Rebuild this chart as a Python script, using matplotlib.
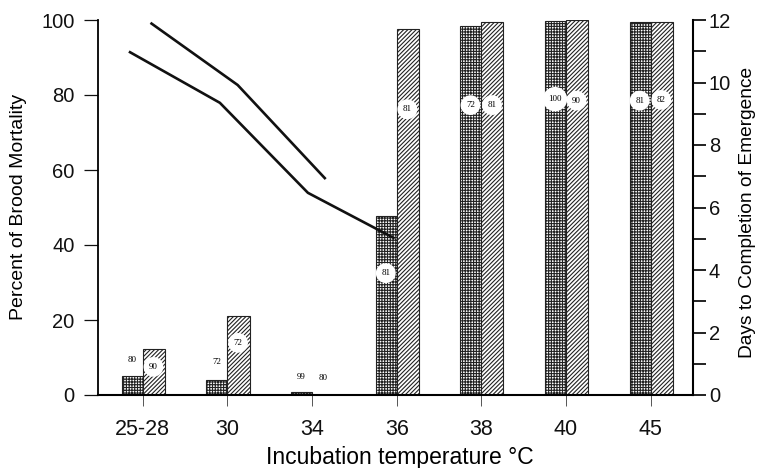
import numpy as np
import matplotlib
matplotlib.use("Agg")
import matplotlib.pyplot as plt
from matplotlib.ticker import MultipleLocator

# ---------------- data ----------------
categories = ["25-28", "30", "34", "36", "38", "40", "45"]
mortality_grid = [5, 4, 0.8, 47.7, 98.5, 99.8, 99.5]      # cross-hatched bars (%)
mortality_diag = [12.2, 21.0, 0, 97.5, 99.6, 100, 99.6]   # diagonal-hatched bars (%)

grid_labels = ["80", "72", "99", "81", "72", "100", "81"]
grid_label_y = [9.3, 8.8, 4.9, 32.5, 77.3, 78.9, 78.5]
grid_label_circle = [False, False, False, True, True, True, True]
diag_labels = ["90", "72", "80", "81", "81", "90", "82"]
diag_label_y = [7.5, 13.9, 4.5, 76.2, 77.3, 78.5, 78.7]
diag_label_circle = [True, True, False, True, True, True, True]

# days to completion of emergence (two curves, positions in category units)
days_a_x = [0.09, 1.12, 2.16]
days_a = [11.91, 9.92, 6.91]
days_b_x = [-0.165, 0.91, 1.95, 2.975]
days_b = [10.99, 9.35, 6.47, 5.01]

# ---------------- style ----------------
plt.rcParams['font.family'] = ['Liberation Sans', 'DejaVu Sans']
plt.rcParams['hatch.linewidth'] = 0.8

W, H = 758, 468
fig = plt.figure(figsize=(W / 100, H / 100), dpi=100)
left_px, right_px, top_px, bottom_px = 98, 693, 20, 395
ax = fig.add_axes([left_px / W, 1 - bottom_px / H,
                   (right_px - left_px) / W, (bottom_px - top_px) / H])

x = np.arange(len(categories))
bw = 0.25
ax.bar(x - bw, mortality_grid, width=bw, align='edge', facecolor='white',
       edgecolor='#222222', linewidth=0.8, hatch='++++++', zorder=2)
ax.bar(x, mortality_diag, width=bw + 0.01, align='edge', facecolor='white',
       edgecolor='#222222', linewidth=0.8, hatch='////////', zorder=2)

ax.set_xlim(-0.53, 6.5)
ax.set_ylim(0, 100)
ax.set_xticks(x)
ax.set_xticklabels(categories, fontsize=15.5)
ax.set_yticks(np.arange(0, 101, 20))
ax.tick_params(axis='y', direction='out', length=10, width=0.9, pad=7,
               labelsize=14.5, colors='#111111')
ax.tick_params(axis='x', direction='out', length=8, width=0.7, pad=9,
               colors='#555555', labelcolor='#111111')
for s in ['top', 'right']:
    ax.spines[s].set_visible(False)
ax.spines['left'].set_linewidth(1.3)
ax.spines['bottom'].set_linewidth(1.5)

bbox_c = dict(boxstyle='circle,pad=0.6', facecolor='white', edgecolor='none')
for i in range(len(categories)):
    ax.text(x[i] - 0.13, grid_label_y[i], grid_labels[i], ha='center', va='center',
            fontsize=6.5, family=['Liberation Serif', 'DejaVu Serif'], zorder=4,
            bbox=bbox_c if grid_label_circle[i] else None)
    ax.text(x[i] + 0.125, diag_label_y[i], diag_labels[i], ha='center', va='center',
            fontsize=6.5, family=['Liberation Serif', 'DejaVu Serif'], zorder=4,
            bbox=bbox_c if diag_label_circle[i] else None)

ax2 = ax.twinx()
ax2.set_ylim(0, 12)
ax2.plot(days_a_x, days_a, color='#111111', lw=1.9, zorder=5, solid_capstyle='butt')
ax2.plot(days_b_x, days_b, color='#111111', lw=1.9, zorder=5, solid_capstyle='butt')
ax2.yaxis.set_major_locator(MultipleLocator(2))
ax2.yaxis.set_minor_locator(MultipleLocator(1))
ax2.tick_params(axis='y', which='both', direction='out', length=9.5, width=1.3,
                pad=2, labelsize=14.5, colors='#111111')
for s in ['top', 'left', 'bottom']:
    ax2.spines[s].set_visible(False)
ax2.spines['right'].set_linewidth(1.5)

fig.text(19 / W, 1 - 207 / H, "Percent of Brood Mortality", rotation=90,
         ha='center', va='center', fontsize=14)
fig.text(748 / W, 1 - 212 / H, "Days to Completion of Emergence", rotation=90,
         ha='center', va='center', fontsize=13.8)
fig.text(400 / W, 1 - 464 / H, "Incubation temperature °C", ha='center',
         va='baseline', fontsize=16.5)

fig.savefig("out.png", dpi=100)
